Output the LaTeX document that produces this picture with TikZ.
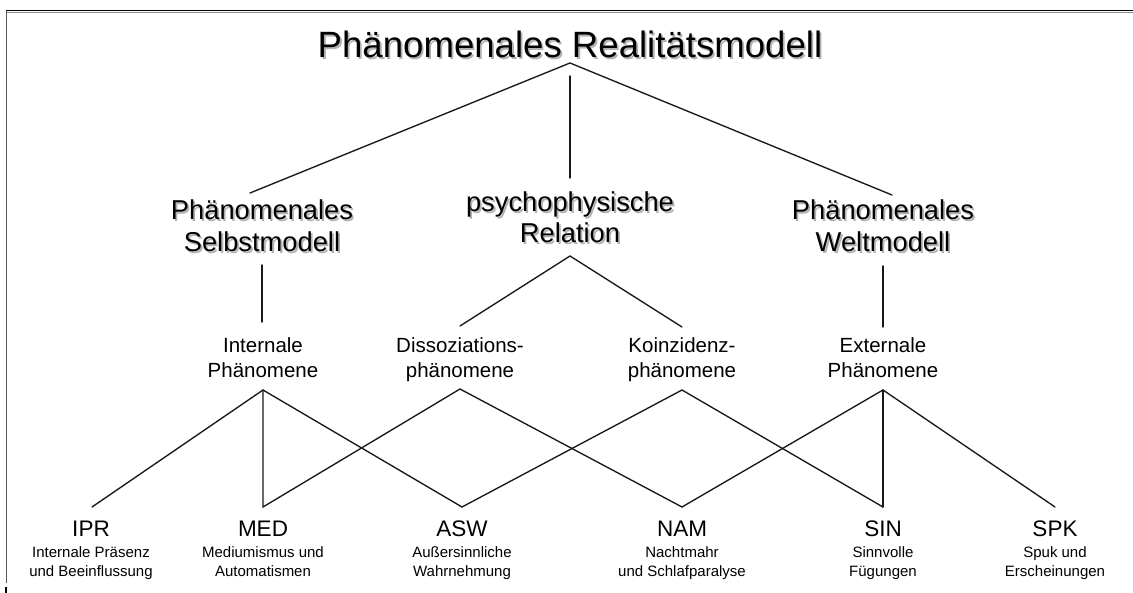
\documentclass[tikz,border=0pt]{standalone}
\usepackage{fontspec}
\setmainfont{Liberation Sans}
\begin{document}
\newcommand\fs[1]{\fontsize{#1}{#1}\selectfont}
% text with a soft grey drop shadow: #1 name, #2 position, #3 size, #4 text
\newcommand\shadowlabel[4]{%
  \node[lbl, text=black!30, xshift=1.8pt, yshift=-1.8pt, font=\fs{#3}] (#1-sh) at (#2) {#4};
  \node[lbl, font=\fs{#3}] (#1) at (#2) {#4};
}
\begin{tikzpicture}[x=1pt, y=-1pt,
  lbl/.style={inner sep=0pt, anchor=base},
  conn/.style={line width=1.35pt, line cap=round, black!90},
  subtitle/.style={lbl, font=\fs{20.5}},
  code/.style={lbl, font=\fs{22.5}},
  note/.style={lbl, font=\fs{15}}]
\useasboundingbox (0,0) rectangle (1133,593);
\fill[white] (0,0) rectangle (1133,593);

% frame
\draw[black!45, line width=1pt] (6,12.4) -- (1133,12.4);
\draw[black, line width=1.8pt] (6,10.6) -- (1133,10.6);
\draw[black!65, line width=0.9pt] (6,11) -- (6,583);
\draw[black, line width=2pt] (6,587) -- (6,593);

% headings
\shadowlabel{title}{570,58}{36.6}{Phänomenales Realitätsmodell}
\shadowlabel{self1}{262,220}{27.3}{Phänomenales}
\shadowlabel{self2}{262,252}{27.3}{Selbstmodell}
\shadowlabel{psy1}{570,212}{27.3}{psychophysische}
\shadowlabel{psy2}{570,243}{27.3}{Relation}
\shadowlabel{world1}{883,220}{27.3}{Phänomenales}
\shadowlabel{world2}{883,252}{27.3}{Weltmodell}

% phenomenon classes
\node[subtitle] (int1) at (263,353) {Internale};
\node[subtitle] (int2) at (263,378) {Phänomene};
\node[subtitle] (dis1) at (460,353) {Dissoziations-};
\node[subtitle] (dis2) at (460,378) {phänomene};
\node[subtitle] (koi1) at (682,353) {Koinzidenz-};
\node[subtitle] (koi2) at (682,378) {phänomene};
\node[subtitle] (ext1) at (883,353) {Externale};
\node[subtitle] (ext2) at (883,378) {Phänomene};

% phenomena
\node[code] (IPR) at (91,536) {IPR};
\node[note] (IPRa) at (91,557) {Internale Präsenz};
\node[note] (IPRb) at (91,576) {und Beeinflussung};
\node[code] (MED) at (263,536) {MED};
\node[note] (MEDa) at (263,557) {Mediumismus und};
\node[note] (MEDb) at (263,576) {Automatismen};
\node[code] (ASW) at (462,536) {ASW};
\node[note] (ASWa) at (462,557) {Außersinnliche};
\node[note] (ASWb) at (462,576) {Wahrnehmung};
\node[code] (NAM) at (682,536) {NAM};
\node[note] (NAMa) at (682,557) {Nachtmahr};
\node[note] (NAMb) at (682,576) {und Schlafparalyse};
\node[code] (SIN) at (883,536) {SIN};
\node[note] (SINa) at (883,557) {Sinnvolle};
\node[note] (SINb) at (883,576) {Fügungen};
\node[code] (SPK) at (1055,536) {SPK};
\node[note] (SPKa) at (1055,557) {Spuk und};
\node[note] (SPKb) at (1055,576) {Erscheinungen};

% junction points
\coordinate (tA) at (570,63);
\coordinate (tL) at (250,193);
\coordinate (tR) at (892,195);
\coordinate (tV1) at (570,76);
\coordinate (tV2) at (570,178);
\coordinate (sV1) at (262,265);
\coordinate (sV2) at (262,322);
\coordinate (wV1) at (883,266);
\coordinate (wV2) at (883,327);
\coordinate (pA) at (570,256);
\coordinate (pL) at (460,326);
\coordinate (pR) at (682,327);
\coordinate (iA) at (263,390);
\coordinate (dA) at (460,389);
\coordinate (kA) at (682,390);
\coordinate (eA) at (883,390);
\coordinate (iprT) at (92,507);
\coordinate (medT) at (263,507);
\coordinate (aswT) at (462,507);
\coordinate (namT) at (682,507);
\coordinate (sinT) at (883,507);
\coordinate (spkT) at (1055,507);

% upper tree
\draw[conn] (tL) -- (tA) -- (tR);
\draw[conn] (tV1) -- (tV2);
\draw[conn] (sV1) -- (sV2);
\draw[conn] (wV1) -- (wV2);
\draw[conn] (pL) -- (pA) -- (pR);

% links from classes to phenomena
\draw[conn] (iprT) -- (iA) -- (aswT);
\draw[conn] (iA) -- (medT) -- (dA) -- (namT);
\draw[conn] (aswT) -- (kA) -- (sinT);
\draw[conn] (namT) -- (eA) -- (spkT);
\draw[conn] (eA) -- (sinT);
\end{tikzpicture}
\end{document}
